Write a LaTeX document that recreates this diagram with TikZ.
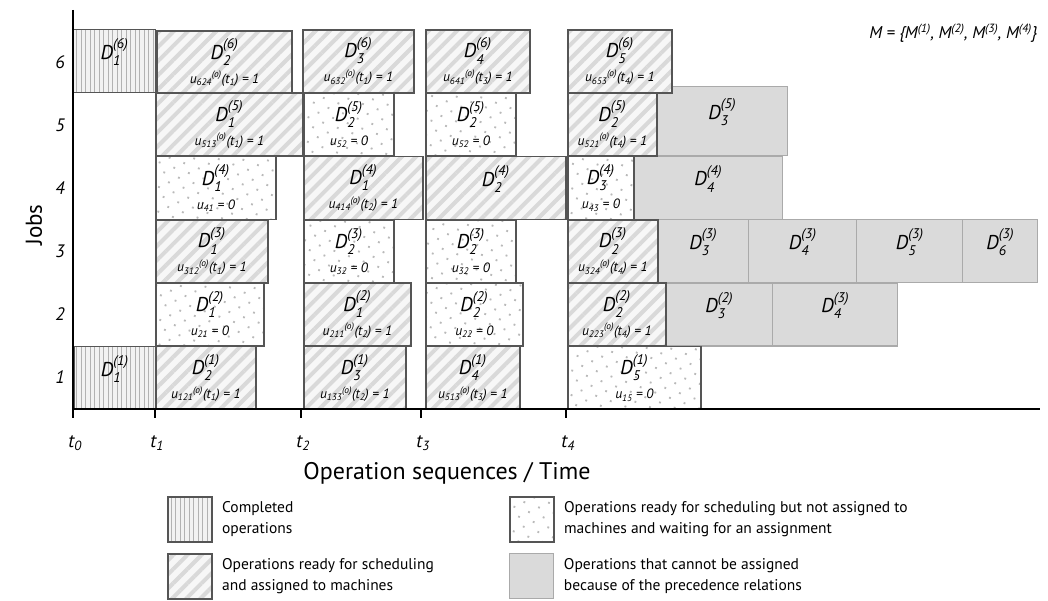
\documentclass[tikz,border=0pt]{standalone}
\usepackage{amsmath}
\usepackage{fontspec}
\setmainfont{PT Sans}
\usetikzlibrary{positioning,patterns.meta}

\definecolor{boxline}{RGB}{85,85,85}
\definecolor{blockfill}{RGB}{218,218,218}
\definecolor{blockline}{RGB}{170,170,170}

% operation label and assignment variables
\newcommand{\Dop}[2]{{\fontsize{20}{20}\selectfont\itshape D$_{\text{\itshape #1}}^{\text{\itshape (#2)}}$}}
\newcommand{\uset}[2]{u$_{\text{\itshape #1}}{}^{\text{\itshape (o)}}$(t$_{\text{\itshape #2}}$) = 1}
\newcommand{\unset}[1]{u$_{\text{\itshape #1}}$ = 0}

\begin{document}
\begin{tikzpicture}[x=1pt, y=-1pt,
  opbox/.style={draw=boxline, line width=1.6pt, anchor=north west, inner sep=0pt,
    minimum height=63pt, align=center, font=\itshape\fontsize{13.5}{24}\selectfont},
  done/.style={opbox, preaction={fill=gray!10},
    pattern={Lines[angle=90,distance=4.5pt,line width=1pt]}, pattern color=gray!60},
  assigned/.style={opbox, preaction={fill=gray!6},
    pattern={Lines[angle=45,distance=10pt,line width=4pt]}, pattern color=gray!30},
  waiting/.style={opbox, preaction={fill=white},
    pattern={Dots[angle=25,distance=11pt,radius=1.3pt]}, pattern color=gray!55},
  blocked/.style={opbox, draw=blockline, line width=1.4pt, fill=blockfill},
  axis/.style={line width=1.8pt},
  joblabel/.style={font=\itshape\fontsize{18}{18}\selectfont},
  legtext/.style={anchor=west, align=left, font=\fontsize{15.5}{21}\selectfont},
  legbox/.style={minimum width=44pt, minimum height=45pt}]

\useasboundingbox (0,0) rectangle (1048,601);

% blocked operations first, so the darker borders stay on top
\node[blocked, minimum width=131pt, minimum height=69pt] (o55) at (656,86) {\Dop{3}{5}\\\phantom{u}};
\node[blocked, minimum width=149pt] (o45) at (633,155.7) {\Dop{4}{4}\\\phantom{u}};
\node[blocked, minimum width=91pt] (o35) at (657,219) {\Dop{3}{3}\\\phantom{u}};
\node[blocked, minimum width=108pt] (o36) at (748,219) {\Dop{4}{3}\\\phantom{u}};
\node[blocked, minimum width=106pt] (o37) at (856,219) {\Dop{5}{3}\\\phantom{u}};
\node[blocked, minimum width=75pt] (o38) at (962,219) {\Dop{6}{3}\\\phantom{u}};
\node[blocked, minimum width=107pt] (o25) at (665,282.3) {\Dop{3}{2}\\\phantom{u}};
\node[blocked, minimum width=125pt] (o26) at (772,282.3) {\Dop{4}{3}\\\phantom{u}};

% job 6
\node[done, minimum width=82pt] (o61) at (73,29) {\Dop{1}{6}\\\phantom{u}};
\node[assigned, minimum width=135pt] (o62) at (155,29) {\Dop{2}{6}\\\uset{624}{1}};
\node[assigned, minimum width=111pt] (o63) at (302,29) {\Dop{3}{6}\\\uset{632}{1}};
\node[assigned, minimum width=104pt] (o64) at (425,29) {\Dop{4}{6}\\\uset{641}{3}};
\node[assigned, minimum width=104pt] (o65) at (567,29) {\Dop{5}{6}\\\uset{653}{4}};

% job 5
\node[assigned, minimum width=147pt] (o51) at (155,92.3) {\Dop{1}{5}\\\uset{513}{1}};
\node[waiting, minimum width=90pt] (o52) at (303,92.3) {\Dop{2}{5}\\\unset{52}};
\node[waiting, minimum width=90pt] (o53) at (425,92.3) {\Dop{2}{5}\\\unset{52}};
\node[assigned, minimum width=89pt] (o54) at (567,92.3) {\Dop{2}{5}\\\uset{521}{4}};

% job 4
\node[waiting, minimum width=120pt] (o41) at (155,155.7) {\Dop{1}{4}\\\unset{41}};
\node[assigned, minimum width=119pt] (o42) at (303,155.7) {\Dop{1}{4}\\\uset{414}{2}};
\node[assigned, minimum width=140pt] (o43) at (425,155.7) {\Dop{2}{4}\\\phantom{u}};
\node[waiting, minimum width=66pt] (o44) at (567,155.7) {\Dop{3}{4}\\\unset{43}};

% job 3
\node[assigned, minimum width=112pt] (o31) at (155,219) {\Dop{1}{3}\\\uset{312}{1}};
\node[waiting, minimum width=90pt] (o32) at (303,219) {\Dop{2}{3}\\\unset{32}};
\node[waiting, minimum width=90pt] (o33) at (425,219) {\Dop{2}{3}\\\unset{32}};
\node[assigned, minimum width=90pt] (o34) at (567,219) {\Dop{2}{3}\\\uset{324}{4}};

% job 2
\node[waiting, minimum width=108pt] (o21) at (155,282.3) {\Dop{1}{2}\\\unset{21}};
\node[assigned, minimum width=107pt] (o22) at (303,282.3) {\Dop{1}{2}\\\uset{211}{2}};
\node[waiting, minimum width=97pt] (o23) at (425,282.3) {\Dop{2}{2}\\\unset{22}};
\node[assigned, minimum width=98pt] (o24) at (567,282.3) {\Dop{2}{2}\\\uset{223}{4}};

% job 1
\node[done, minimum width=82pt] (o11) at (73,345.7) {\Dop{1}{1}\\\phantom{u}};
\node[assigned, minimum width=100pt] (o12) at (155,345.7) {\Dop{2}{1}\\\uset{121}{1}};
\node[assigned, minimum width=102pt] (o13) at (303,345.7) {\Dop{3}{1}\\\uset{133}{2}};
\node[assigned, minimum width=94pt] (o14) at (425,345.7) {\Dop{4}{1}\\\uset{513}{3}};
\node[waiting, minimum width=133pt] (o15) at (567,345.7) {\Dop{5}{1}\\\unset{15}};

% axes
\coordinate (origin) at (73,409);
\coordinate (ytop) at (73,10);
\coordinate (xend) at (1040,409);
\draw[axis] (ytop) -- (origin) -- (xend);
\foreach \n/\x in {0/73,1/155,2/301,3/421,4/566} {
  \coordinate (t\n) at (\x,409);
  \draw[axis] (t\n) -- ++(0,9);
  \node[font=\itshape\fontsize{19}{19}\selectfont] (lt\n) at (\x+2,443) {t$_{\text{\itshape\n}}$};
}
\foreach \j/\y in {6/62,5/125,4/188,3/251,2/314,1/377}
  \node[joblabel] (job\j) at (60,\y) {\j};

\node[rotate=90, font=\fontsize{23}{23}\selectfont] (ylab) at (34,225) {Jobs};
\node[font=\fontsize{24}{24}\selectfont] (xlab) at (447,473) {Operation sequences / Time};
\node[anchor=east, font=\itshape\fontsize{17}{17}\selectfont] (mset) at (1041,33)
  {M = \{M$^{\text{\itshape (1)}}$, M$^{\text{\itshape (2)}}$, M$^{\text{\itshape (3)}}$, M$^{\text{\itshape (4)}}$\}};

% legend
\node[done, legbox] (lg1) at (167,496) {};
\node[legtext, right=6pt of lg1] (lt1) {Completed\\operations};
\node[assigned, legbox] (lg2) at (167,553) {};
\node[legtext, right=6pt of lg2] (lt2) {Operations ready for scheduling\\and assigned to machines};
\node[waiting, legbox] (lg3) at (509,496) {};
\node[legtext, right=6pt of lg3] (lt3) {Operations ready for scheduling but not assigned to\\machines and waiting for an assignment};
\node[blocked, legbox] (lg4) at (509,553) {};
\node[legtext, right=6pt of lg4] (lt4) {Operations that cannot be assigned\\because of the precedence relations};
\end{tikzpicture}
\end{document}
